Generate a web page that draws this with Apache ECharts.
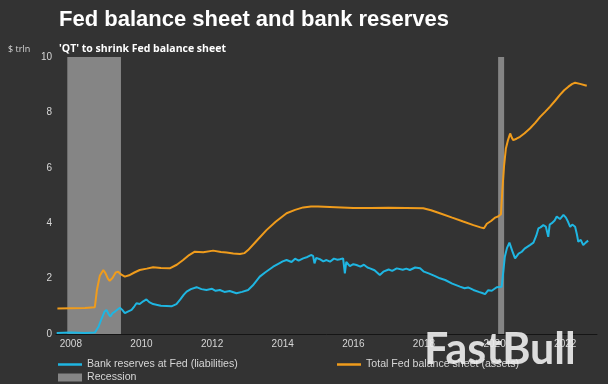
<!DOCTYPE html>
<html>
<head>
<meta charset="utf-8">
<script src="https://cdn.jsdelivr.net/npm/echarts@6/dist/echarts.min.js"></script>
<style>
html,body{margin:0;padding:0;background:#333333;}
#chart{width:608px;height:384px;}
</style>
</head>
<body>
<div id="chart"></div>
<script>
// ---- data (decimal years, $ trillion) ----
const yearTicks = [2008, 2010, 2012, 2014, 2016, 2018, 2020, 2022];
const yTicks = [0, 2, 4, 6, 8, 10];

const recessionStart = [2007.90, 2020.10];
const recessionEnd   = [2009.42, 2020.27];

const reservesDates = [2007.60,2008.00,2008.40,2008.68,2008.78,2008.87,2008.95,2009.01,2009.07,2009.12,2009.18,2009.25,2009.30,2009.39,2009.45,2009.53,2009.60,2009.72,2009.80,2009.86,2009.95,2010.05,2010.14,2010.22,2010.33,2010.45,2010.55,2010.71,2010.85,2010.99,2011.10,2011.20,2011.28,2011.40,2011.56,2011.70,2011.84,2012.00,2012.10,2012.22,2012.35,2012.50,2012.69,2012.85,2013.02,2013.15,2013.35,2013.50,2013.73,2013.90,2014.00,2014.11,2014.25,2014.35,2014.45,2014.58,2014.70,2014.80,2014.86,2014.90,2014.95,2015.05,2015.15,2015.24,2015.34,2015.45,2015.55,2015.62,2015.71,2015.76,2015.80,2015.90,2016.00,2016.09,2016.20,2016.30,2016.40,2016.47,2016.60,2016.75,2016.85,2017.00,2017.10,2017.23,2017.40,2017.50,2017.60,2017.75,2017.89,2018.00,2018.15,2018.30,2018.45,2018.60,2018.80,2019.02,2019.15,2019.25,2019.40,2019.55,2019.65,2019.73,2019.82,2019.92,2020.06,2020.20,2020.25,2020.29,2020.35,2020.42,2020.50,2020.58,2020.68,2020.77,2020.85,2021.00,2021.10,2021.18,2021.24,2021.30,2021.38,2021.45,2021.52,2021.56,2021.62,2021.70,2021.76,2021.85,2021.95,2022.02,2022.08,2022.14,2022.20,2022.28,2022.33,2022.37,2022.44,2022.51,2022.58,2022.65];
const reservesValues = [0.04,0.05,0.04,0.05,0.25,0.55,0.80,0.87,0.72,0.63,0.75,0.81,0.74,0.95,0.88,0.75,0.80,0.87,1.00,1.11,1.08,1.18,1.25,1.15,1.08,1.05,1.02,1.01,1.00,1.08,1.25,1.42,1.53,1.62,1.69,1.62,1.59,1.63,1.56,1.59,1.52,1.55,1.47,1.52,1.59,1.75,2.07,2.22,2.43,2.55,2.62,2.67,2.60,2.72,2.65,2.73,2.78,2.85,2.82,2.55,2.75,2.70,2.62,2.67,2.61,2.72,2.68,2.70,2.73,2.19,2.60,2.45,2.52,2.49,2.43,2.50,2.40,2.37,2.30,2.13,2.25,2.33,2.28,2.37,2.32,2.36,2.31,2.40,2.37,2.25,2.18,2.10,2.01,1.95,1.82,1.71,1.65,1.68,1.59,1.52,1.48,1.44,1.58,1.56,1.69,1.71,2.30,2.79,3.10,3.30,3.00,2.73,2.90,2.97,3.08,3.21,3.30,3.55,3.81,3.85,3.93,3.88,3.51,3.95,4.00,4.10,4.24,4.15,4.30,4.20,4.05,3.87,3.95,3.87,3.60,3.33,3.40,3.21,3.30,3.37];

const assetsDates = [2007.62,2008.00,2008.40,2008.68,2008.74,2008.82,2008.92,2008.98,2009.05,2009.10,2009.18,2009.27,2009.34,2009.42,2009.53,2009.65,2009.80,2009.95,2010.15,2010.33,2010.55,2010.80,2011.00,2011.18,2011.35,2011.51,2011.75,2012.03,2012.25,2012.41,2012.60,2012.79,2012.92,2013.02,2013.25,2013.54,2013.80,2014.11,2014.35,2014.58,2014.80,2015.00,2015.50,2016.00,2016.50,2017.00,2017.50,2017.98,2018.20,2018.45,2018.80,2019.11,2019.40,2019.60,2019.70,2019.78,2019.90,2020.01,2020.10,2020.18,2020.22,2020.27,2020.32,2020.38,2020.44,2020.49,2020.53,2020.62,2020.72,2020.85,2021.00,2021.15,2021.29,2021.43,2021.57,2021.72,2021.85,2021.97,2022.09,2022.20,2022.28,2022.42,2022.61];
const assetsValues = [0.92,0.93,0.94,0.97,1.60,2.10,2.31,2.20,2.00,1.92,2.02,2.22,2.25,2.15,2.07,2.12,2.22,2.31,2.36,2.41,2.38,2.37,2.50,2.67,2.85,2.97,2.95,3.01,2.96,2.94,2.91,2.89,2.92,3.03,3.35,3.75,4.05,4.36,4.48,4.57,4.60,4.60,4.58,4.55,4.55,4.56,4.55,4.54,4.47,4.36,4.20,4.06,3.93,3.85,3.82,3.98,4.08,4.20,4.24,4.32,5.20,6.10,6.70,7.00,7.24,7.08,7.00,7.05,7.12,7.25,7.42,7.62,7.84,8.02,8.21,8.43,8.63,8.80,8.93,9.03,9.07,9.03,8.96];

const nameReserves = 'Bank reserves at Fed (liabilities)';
const nameAssets = 'Total Fed balance sheet (assets)';
const nameRecession = 'Recession';

// ---- build ----
const zip = (xs, ys) => xs.map((x, i) => [x, ys[i]]);
const recessionAreas = recessionStart.map((s, i) => [{ xAxis: s }, { xAxis: recessionEnd[i] }]);

const BLUE = '#1fb6e2';
const ORANGE = '#f09c1c';
const GREY = '#858585';
const legendFont = { color: '#d6d6d6', fontSize: 10.6, fontFamily: '"Liberation Sans",Arial,sans-serif' };

const chart = echarts.init(document.getElementById('chart'), null, { renderer: 'canvas' });
chart.setOption({
  backgroundColor: '#333333',
  animation: false,
  title: [
    { text: 'Fed balance sheet and bank reserves', left: 54, top: 4,
      textStyle: { color: '#ffffff', fontSize: 22, fontWeight: 'bold', fontFamily: '"Liberation Sans",Arial,sans-serif' } },
    { text: "'QT' to shrink Fed balance sheet", left: 54, top: 39,
      textStyle: { color: '#ffffff', fontSize: 10.5, fontWeight: 'bold', fontFamily: '"Open Sans","Liberation Sans",sans-serif' } },
    { text: '$ trln', left: 3, top: 40,
      textStyle: { color: '#d6d6d6', fontSize: 9, fontWeight: 'normal', fontFamily: '"Open Sans","Liberation Sans",sans-serif' } }
  ],
  grid: { left: 56, right: 11, top: 57, bottom: 50 },
  xAxis: {
    type: 'value', min: 2007.58, max: 2022.9,
    splitLine: { show: false },
    axisTick: { show: false },
    axisLine: { show: true, lineStyle: { color: '#151515', width: 1 } },
    axisLabel: { customValues: yearTicks, color: '#d6d6d6', fontSize: 10, margin: 5,
      fontFamily: '"Liberation Sans",sans-serif', formatter: v => String(v) }
  },
  yAxis: {
    type: 'value', min: 0, max: 10, interval: 2,
    splitLine: { show: false },
    axisTick: { show: false },
    axisLine: { show: false },
    axisLabel: { customValues: yTicks, color: '#d6d6d6', fontSize: 10, margin: 4,
      fontFamily: '"Liberation Sans",sans-serif' }
  },
  legend: [
    { left: 58, top: 359, itemWidth: 24, itemHeight: 8, padding: 0, selectedMode: false,
      data: [{ name: nameReserves, icon: 'path://M0,0 L24,0 L24,2.5 L0,2.5 Z', itemStyle: { color: BLUE } }],
      textStyle: legendFont },
    { left: 58, top: 372, itemWidth: 24, itemHeight: 8, padding: 0, selectedMode: false,
      data: [{ name: nameRecession, icon: 'rect', itemStyle: { color: GREY } }],
      textStyle: legendFont },
    { left: 337, top: 359, itemWidth: 24, itemHeight: 8, padding: 0, selectedMode: false,
      data: [{ name: nameAssets, icon: 'path://M0,0 L24,0 L24,2.5 L0,2.5 Z', itemStyle: { color: ORANGE } }],
      textStyle: legendFont }
  ],
  graphic: [
    { type: 'text', left: 424, top: 329, z: 100,
      style: { text: 'FastBull', fill: 'rgba(238,238,238,0.9)', fontSize: 43, fontWeight: 'bold',
        fontFamily: '"Lato","Open Sans",sans-serif' } }
  ],
  series: [
    { name: nameRecession, type: 'line', data: [], z: 1, color: GREY,
      markArea: { silent: true, itemStyle: { color: GREY, opacity: 1 }, data: recessionAreas } },
    { name: nameReserves, type: 'line', data: zip(reservesDates, reservesValues), z: 3,
      showSymbol: false, symbol: 'none', color: BLUE, lineStyle: { color: BLUE, width: 2 } },
    { name: nameAssets, type: 'line', data: zip(assetsDates, assetsValues), z: 3,
      showSymbol: false, symbol: 'none', color: ORANGE, lineStyle: { color: ORANGE, width: 2 } }
  ]
});
</script>
</body>
</html>
